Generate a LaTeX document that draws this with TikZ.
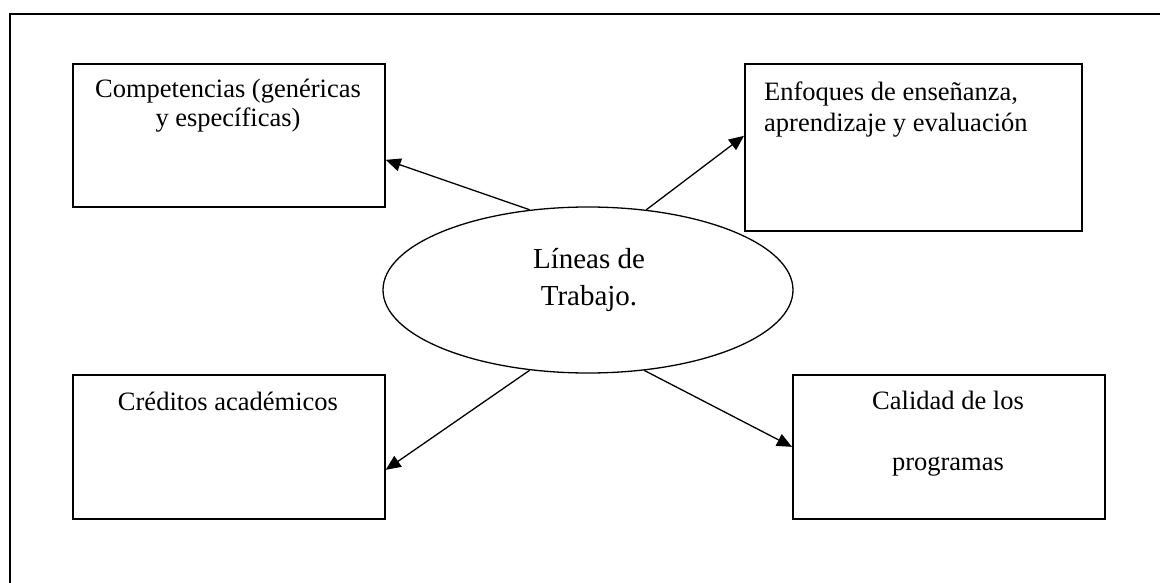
\documentclass[tikz,border=0pt]{standalone}
\usepackage{fontspec}
\setmainfont{Liberation Serif}
\usetikzlibrary{shapes.geometric,arrows.meta,calc}

\begin{document}
\begin{tikzpicture}[x=1pt,y=-1pt,
  box/.style={draw,line width=1.7pt,rectangle,inner sep=0pt,anchor=north west},
  boxtext/.style={anchor=base,inner sep=0pt,align=center,font=\fontsize{26.5}{29}\selectfont},
  arr/.style={line width=1.3pt,-{Triangle[length=15pt,width=13pt]}},
]
\useasboundingbox (0,0) rectangle (1160,583);

% outer frame (continues past the page edge on the right and bottom)
\draw[line width=2.2pt] (10,1200) -- (10,14) -- (1300,14);

% boxes
\node[box,minimum width=312pt,minimum height=143pt] (b1) at (72,63) {};
\node[box,minimum width=337pt,minimum height=167pt] (b2) at (744,63) {};
\node[box,minimum width=312pt,minimum height=144pt] (b3) at (72,374) {};
\node[box,minimum width=312pt,minimum height=144pt] (b4) at (792,374) {};

% central ellipse
\node[draw,ellipse,line width=1.3pt,inner sep=0pt,minimum width=410pt,minimum height=166pt] (e) at (588,290) {};

% texts (the base anchor sits on the last line)
\node[boxtext] (t1) at (228,127) {Competencias (genéricas\\y específicas)};
\node[boxtext,anchor=base west,align=left,font=\fontsize{26.5}{32}\selectfont] (t2) at (764,132) {Enfoques de enseñanza,\\aprendizaje y evaluación};
\node[boxtext] (t3) at (228,410) {Créditos académicos};
\node[boxtext,font=\fontsize{26.5}{61}\selectfont] (t4) at (948,470) {Calidad de los\\programas};
\node[boxtext,font=\fontsize{29}{37}\selectfont] (te) at (589,305) {Líneas de\\Trabajo.};

% connectors
\draw[arr] (e.126) -- ($(b1.east)+(0,24.5)$);
\draw[arr] (e.54.6) -- ($(b2.west)+(0,-11.5)$);
\draw[arr] (e.234.5) -- ($(b3.east)+(0,23)$);
\draw[arr] (e.305.5) -- (b4.west);
\end{tikzpicture}
\end{document}
